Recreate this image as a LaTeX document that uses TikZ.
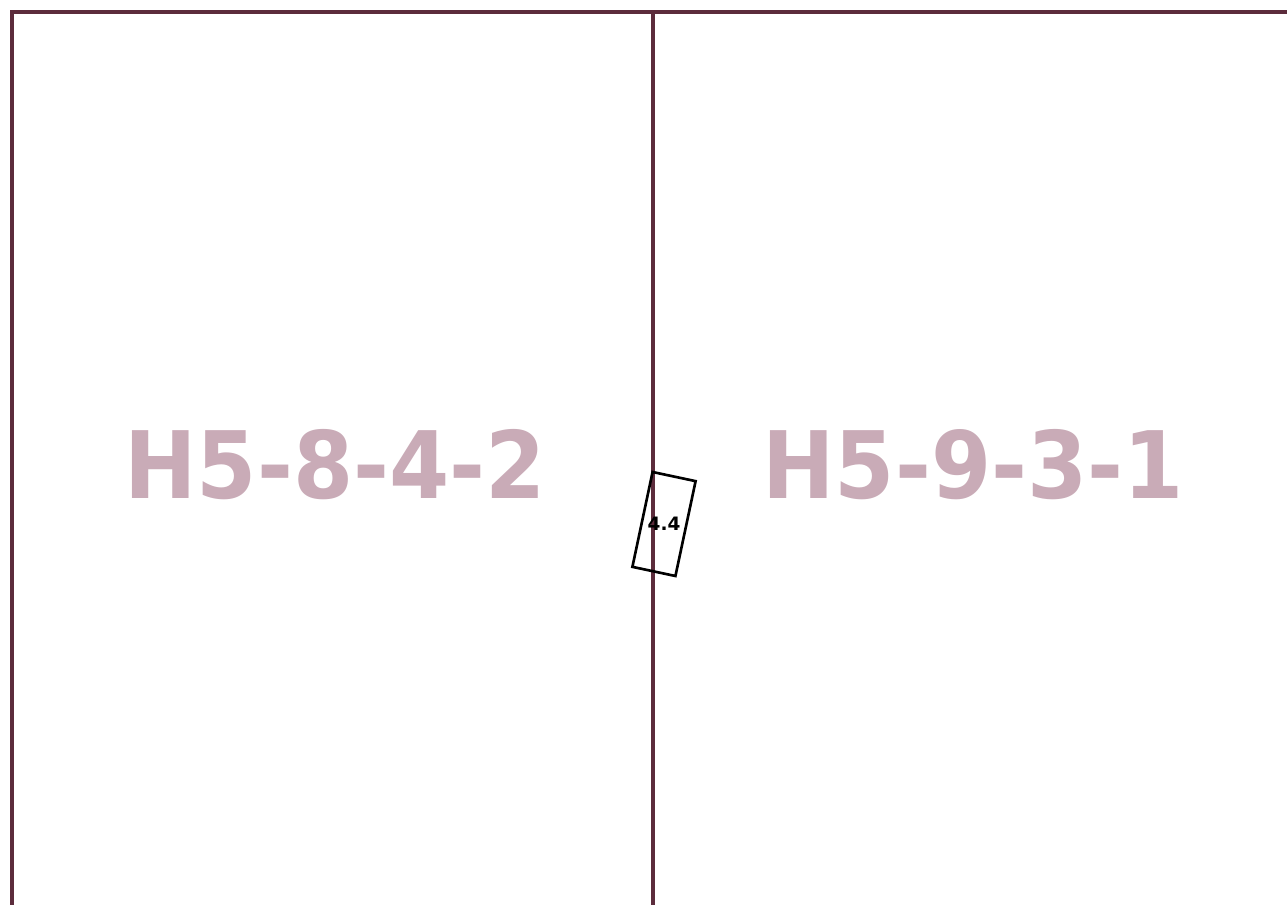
\documentclass[tikz,border=0pt]{standalone}
\usepackage{fontspec}
\setmainfont{DejaVu Sans}
\definecolor{wallline}{HTML}{5C2C3C}
\definecolor{roomlabel}{HTML}{C9ABB7}
\tikzset{
  wall/.style={line width=2.2pt,wallline},
  roomname/.style={roomlabel,font=\bfseries\fontsize{53}{53}\selectfont,xscale=0.93,inner sep=0pt},
  tagbox/.style={draw,black,line width=1.5pt,minimum width=0.88cm,minimum height=1.94cm,inner sep=0pt}
}
\begin{document}
\begin{tikzpicture}[x=0.02cm,y=-0.02cm]
  \useasboundingbox (0,0) rectangle (1287,905);
  % Walls
  \draw[wall] (1287,12) -- (12,12) -- (12,905);
  \draw[wall] (653,12) -- (653,905);
  % Room names
  \node[roomname] (left) at (335,465) {H5-8-4-2};
  \node[roomname] (right) at (973,465) {H5-9-3-1};
  % Rotated tag on the wall
  \node[tagbox,rotate=-12] (tag) at (664,524) {};
  \node[font=\bfseries\fontsize{10.5}{10.5}\selectfont,inner sep=0pt] (taglabel) at (tag.center) {4.4};
\end{tikzpicture}
\end{document}
